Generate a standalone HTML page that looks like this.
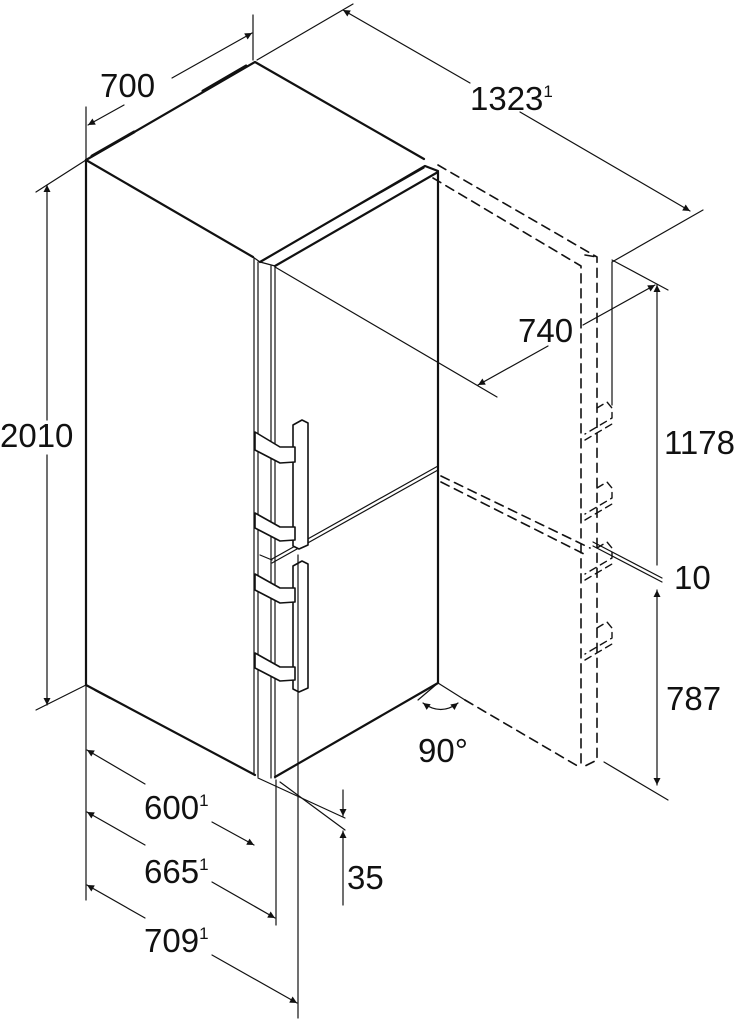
<!DOCTYPE html>
<html><head><meta charset="utf-8"><style>
html,body{margin:0;padding:0;background:#fff;}
svg{display:block;}
text{font-family:"Liberation Sans",sans-serif;fill:#111;}
</style></head><body>
<svg width="749" height="1030" viewBox="0 0 749 1030" xmlns="http://www.w3.org/2000/svg">
<defs>
<marker id="a" viewBox="0 0 10 10" refX="10" refY="5" markerWidth="10" markerHeight="7" orient="auto-start-reverse" markerUnits="userSpaceOnUse"><path d="M0,0L10,5L0,10z" fill="#111"/></marker>
</defs>
<g fill="none" stroke="#111" stroke-linecap="round" stroke-linejoin="round">
<g stroke-width="2.2">
<path d="M86,160 L255,62 L424,159"/>
<path d="M86,160 L253,257"/>
<path d="M86,160 L86,685 L255,775"/>
<path d="M260,262 L425,166 L438,171"/>
<path d="M275,266 L438,172 L438,683 L275,777"/>
</g>
<g stroke-width="1.2">
<path d="M254,258 L254,775"/><path d="M258,262 L258,777"/>
<path d="M271,266 L271,778"/><path d="M275,266 L275,778"/>
<path d="M253,257 L260,262 L275,266"/>
<path d="M261,261 L424,168"/>
<path d="M272,559 L438,466"/><path d="M272,563 L438,470"/>
<path d="M260,555 L272,560"/>
</g>
<g stroke-width="1.6" fill="#fff">
<path d="M293,425 L302,420 L308,423 L308,545 L299,549 L293,546 Z"/>
<path d="M293,566 L302,561 L308,564 L308,688 L299,692 L293,689 Z"/>
<path d="M255,432 L280,447 L295,447 L295,462 L280,463 L255,450 Z"/>
<path d="M255,513 L280,527 L295,527 L295,540 L280,541 L255,528 Z"/>
<path d="M255,574 L280,588 L295,588 L295,602 L280,603 L255,590 Z"/>
<path d="M255,653 L280,667 L295,667 L295,680 L280,681 L255,668 Z"/>
</g>
<path d="M95,690 L110,698" stroke-width="2"/>
<path d="M203,91 L246,66" stroke-width="3"/>
<path d="M92,156 L134,132" stroke-width="3"/>
<g stroke-width="1.6" stroke-dasharray="9,6">
<path d="M438,165 L597,257 L597,760 L581,768"/>
<path d="M433,178 L581,266 L581,768"/>
<path d="M441,476 L590,548"/><path d="M441,482 L584,554"/>
<path d="M465,700 L581,768"/>
<path d="M585,255 L597,257"/>
</g>
<g stroke-width="1.4" stroke-dasharray="7,5">
<path d="M597,408 L607,402 L612,408 L612,418 L585,434 M585,440 L612,424"/>
<path d="M597,488 L607,482 L612,488 L612,498 L585,514 M585,520 L612,504"/>
<path d="M597,548 L607,542 L612,548 L612,558 L585,574 M585,580 L612,564"/>
<path d="M597,628 L607,622 L612,628 L612,638 L585,654 M585,660 L612,644"/>
</g>
<path d="M418,700 L438,683 L465,700" stroke-width="1.2"/>
<path d="M423,703 Q441,716 458,703" stroke-width="1.2" marker-start="url(#a)" marker-end="url(#a)"/>
<g stroke-width="1.2">
<path d="M86,107 L86,160"/><path d="M253,15 L253,60"/>
<path d="M88,125 L124,105" marker-start="url(#a)"/>
<path d="M172,78 L252,33" marker-end="url(#a)"/>
<path d="M257,60 L353,4"/><path d="M612,262 L703,210"/>
<path d="M343,10 L470,83" marker-start="url(#a)"/>
<path d="M520,112 L690,211" marker-end="url(#a)"/>
<path d="M275,267 L497,397"/><path d="M612,260 L668,290"/><path d="M612,262 L612,405"/>
<path d="M548,346 L478,385" marker-end="url(#a)"/>
<path d="M583,325 L655,285" marker-end="url(#a)"/>
<path d="M657,565 L657,285" marker-end="url(#a)"/>
<path d="M593,542 L662,578"/><path d="M593,546 L662,582"/>
<path d="M657,590 L657,785" marker-start="url(#a)" marker-end="url(#a)"/>
<path d="M604,762 L668,800"/>
<path d="M36,192 L86,160"/><path d="M36,710 L86,685"/>
<path d="M47,185 L47,420" marker-start="url(#a)"/>
<path d="M47,455 L47,705" marker-end="url(#a)"/>
<path d="M86,685 L86,900"/><path d="M276,780 L276,925"/><path d="M298,555 L298,1018"/>
<path d="M87,750 L145,784" marker-start="url(#a)"/>
<path d="M212,822 L254,845" marker-end="url(#a)"/>
<path d="M87,812 L145,845" marker-start="url(#a)"/>
<path d="M212,882 L275,918" marker-end="url(#a)"/>
<path d="M87,885 L145,918" marker-start="url(#a)"/>
<path d="M212,955 L297,1003" marker-end="url(#a)"/>
<path d="M258,778 L345,818"/><path d="M280,782 L345,830"/>
<path d="M343,790 L343,816" marker-end="url(#a)"/>
<path d="M343,905 L343,831" marker-end="url(#a)"/>
</g>
</g>
<g font-size="33">
<text x="100" y="97">700</text>
<text x="470" y="110">1323<tspan font-size="17" dy="-13">1</tspan></text>
<text x="518" y="342">740</text>
<text x="0" y="447">2010</text>
<text x="664" y="454">1178</text>
<text x="674" y="589">10</text>
<text x="666" y="710">787</text>
<text x="418" y="762">90°</text>
<text x="144" y="819">600<tspan font-size="17" dy="-13">1</tspan></text>
<text x="144" y="883">665<tspan font-size="17" dy="-13">1</tspan></text>
<text x="144" y="952">709<tspan font-size="17" dy="-13">1</tspan></text>
<text x="347" y="889">35</text>
</g>
</svg>
</body></html>
